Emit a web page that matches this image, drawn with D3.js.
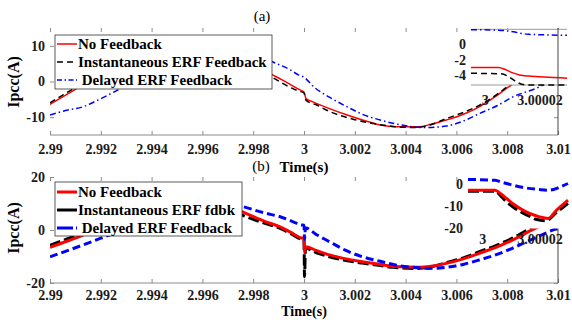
<!DOCTYPE html>
<html>
<head>
<meta charset="utf-8">
<script src="https://cdn.jsdelivr.net/npm/d3@7"></script>
<style>
  body { margin: 0; background: #fff; }
  svg { display: block; }
</style>
</head>
<body>
<svg id="chart" width="572" height="320"></svg>
<script>
// Values: [time (s), Ipcc (A)]
var xTicks = [2.99, 2.992, 2.994, 2.996, 2.998, 3, 3.002, 3.004, 3.006, 3.008, 3.01];
var yTicksA = [-10, 0, 10];
var yTicksB = [-20, 0, 20];
var insetXTicks = [3, 3.00002];
var insetYTicksA = [-4, -2, 0];
var insetYTicksB = [-20, -10, 0];

var legendA = ["No Feedback", "Instantaneous ERF Feedback", " Delayed ERF Feedback"];
var legendB = ["No Feedback", "Instantaneous ERF fdbk", " Delayed ERF Feedback"];

// (a) main
var aNoFb = [[2.99,-6.4],[2.9905,-4.3],[2.991,-2.2],[2.992,2.2],[2.993,6.6],[2.994,10],[2.995,11.8],[2.996,11.6],
  [2.997,9.4],[2.998,5.2],[2.9988,1.7],[2.9991,0.6],[2.9995,-1.0],[2.9998,-2.2],[3.0,-3.0],[3.00008,-4.8],
  [3.00035,-5.7],[3.001,-7.6],[3.0017,-9.4],[3.0024,-11.0],[3.003,-12.2],[3.0036,-12.7],[3.0045,-12.7],
  [3.005,-12.0],[3.0056,-10.8],[3.0063,-9.1],[3.0069,-7.1],[3.0075,-4.4],[3.0081,-1.3],[3.009,2.4],[3.01,6.0]];
var aInst = [[2.99,-6.0],[2.9905,-3.8],[2.991,-1.7],[2.992,2.8],[2.993,7.1],[2.994,10.4],[2.995,12.0],[2.996,11.4],
  [2.997,9.0],[2.998,4.6],[2.9988,1.0],[2.9991,-0.3],[2.9995,-1.8],[2.9998,-2.7],[3.0,-3.2],[3.00008,-5.3],
  [3.0005,-6.6],[3.001,-8.4],[3.002,-10.7],[3.003,-12.1],[3.0038,-12.8],[3.0044,-12.9],[3.005,-12.1],
  [3.0056,-10.4],[3.0063,-8.6],[3.0069,-6.7],[3.0075,-4.1],[3.0081,-1.0],[3.009,2.8],[3.01,6.4]];
var aDelayed = [[2.99,-9.4],[2.9907,-8.0],[2.9913,-7.1],[2.9918,-5.5],[2.9924,-3.4],[2.993,-1.0],[2.994,3.6],
  [2.995,8.2],[2.996,11.2],[2.997,11.6],[2.998,8.6],[2.9988,5.4],[2.9994,3.5],[2.9998,1.8],[3.0,1.2],
  [3.0004,-1.6],[3.001,-4.4],[3.0017,-7.1],[3.0023,-9.2],[3.003,-10.8],[3.0037,-12.0],[3.0043,-12.7],
  [3.0048,-12.9],[3.0056,-12.5],[3.0063,-11.0],[3.0069,-9.0],[3.0076,-6.8],[3.0082,-4.4],[3.0093,-1.4],[3.01,1.5]];

// (a) inset around t = 3 s
var aInsetNoFb = [[2.999995,-3.0],[3.000005,-3.0],[3.0000075,-3.25],[3.00001,-3.65],[3.0000127,-3.94],
  [3.000016,-4.08],[3.00002,-4.15],[3.000025,-4.25],[3.00003,-4.35]];
var aInsetInst = [[2.999995,-3.73],[3.000006,-3.8],[3.000009,-4.2],[3.0000115,-4.8],[3.0000152,-5.2],[3.00003,-5.2]];
var aInsetDelayed = [[2.999995,1.75],[3.000005,1.68],[3.000008,1.6],[3.000011,1.45],[3.000013,1.3],
  [3.000016,1.18],[3.00002,1.12],[3.00003,1.05]];

// (b) main
var bNoFb = [[2.99,-6.5],[2.9905,-4.8],[2.991,-3.1],[2.992,1.2],[2.993,5.6],[2.994,9.2],[2.995,11.1],[2.996,11.0],
  [2.997,8.9],[2.99755,6.9],[2.9985,3.1],[2.99906,1.2],[2.9995,-1.0],[2.9999,-3.0],[3.0,-3.1],[3.00002,-8.3],
  [3.00006,-6.3],[3.0005,-7.8],[3.001,-9.4],[3.0016,-10.8],[3.0023,-12.0],[3.003,-13.0],[3.0036,-13.8],
  [3.0045,-14.1],[3.005,-13.7],[3.0056,-12.6],[3.0063,-10.8],[3.0069,-8.8],[3.0076,-6.4],[3.0082,-3.8],
  [3.0091,0.6],[3.01,4.5]];
var bInst = [[2.99,-5.8],[2.9905,-4.0],[2.991,-2.2],[2.992,2.0],[2.993,6.2],[2.994,9.7],[2.995,11.3],[2.996,10.8],
  [2.997,8.3],[2.99755,5.7],[2.9985,2.4],[2.99906,0.6],[2.9995,-1.5],[2.9999,-3.4],[3.0,-3.5],[3.00002,-17.6],
  [3.00006,-6.9],[3.0005,-8.6],[3.001,-10.1],[3.0016,-11.4],[3.0023,-12.5],[3.003,-13.4],[3.0035,-14.1],
  [3.0044,-14.5],[3.005,-13.9],[3.0056,-12.3],[3.0063,-10.4],[3.0069,-8.2],[3.0076,-5.7],[3.0082,-3.1],
  [3.0088,0.0],[3.01,5.0]];
var bDelayed = [[2.99,-10.1],[2.991,-6.7],[2.992,-3.1],[2.993,0.6],[2.994,4.5],[2.995,8.0],[2.996,10.2],
  [2.997,10.3],[2.9976,8.8],[2.9985,6.3],[2.99906,5.0],[2.9996,3.0],[2.9999,1.9],[3.0,1.8],[3.00002,-3.5],
  [3.00006,0.8],[3.0005,-1.8],[3.001,-4.4],[3.0016,-7.5],[3.0023,-10.1],[3.003,-11.8],[3.0036,-13.2],
  [3.0043,-14.1],[3.0049,-14.5],[3.0056,-14.1],[3.0063,-12.9],[3.0069,-11.3],[3.0076,-9.2],[3.0082,-6.9],
  [3.009,-3.4],[3.00995,0.6],[3.01,0.8]];

// (b) inset around t = 3 s
var bInsetNoFb = [[2.999995,-2.9],[3.0000045,-2.9],[3.0000065,-4.5],[3.0000085,-6.6],[3.000011,-9.2],
  [3.0000142,-11.8],[3.000017,-13.5],[3.00002,-14.8],[3.000023,-15.5],[3.000026,-11.8],[3.00003,-7.3]];
var bInsetInst = [[2.999995,-3.4],[3.0000045,-3.4],[3.0000065,-5.5],[3.0000085,-8.1],[3.000011,-10.6],
  [3.000014,-12.9],[3.000017,-14.8],[3.0000188,-15.9],[3.0000223,-16.5],[3.000026,-12.8],[3.00003,-8.8]];
var bInsetDelayed = [[2.999995,1.9],[3.0000045,1.5],[3.000007,0.6],[3.00001,-0.4],[3.000014,-1.6],
  [3.00002,-2.6],[3.0000235,-2.9],[3.000027,-1.6],[3.00003,0.1]];

(function() {
  var FONT = '"Liberation Serif", "Times New Roman", serif';
  var svg = d3.select("#chart");

  svg.append("rect").attr("width", 572).attr("height", 320).attr("fill", "#fff");

  var x = d3.scaleLinear().domain([2.99, 3.01]).range([50, 558]);
  var fmtNum = function(d) { return String(+d.toFixed(5)); };

  var styleAxis = function(g, size) {
    g.select(".domain").remove();
    g.attr("font-family", FONT).attr("font-size", size).attr("font-weight", "bold");
    g.selectAll(".tick line").attr("stroke", "#8c8c8c");
    g.selectAll(".tick text").attr("fill", "#1a1a1a");
  };

  var drawLine = function(g, data, xs, ys, st) {
    var line = d3.line()
      .x(function(d) { return xs(d[0]); })
      .y(function(d) { return ys(d[1]); })
      .curve(d3.curveMonotoneX);
    g.append("path").datum(data)
      .attr("fill", "none")
      .attr("stroke", st.color)
      .attr("stroke-width", st.width)
      .attr("stroke-dasharray", st.dash)
      .attr("d", line);
  };

  var drawLegend = function(g, box, labels, styles) {
    g.append("rect")
      .attr("x", box.x).attr("y", box.y).attr("width", box.w).attr("height", box.h)
      .attr("fill", "#fff").attr("stroke", "#333").attr("stroke-width", 0.8);
    labels.forEach(function(lab, i) {
      var cy = box.y + box.first + i * box.step;
      var st = styles[i];
      g.append("line")
        .attr("x1", box.x + 2).attr("x2", box.x + 22).attr("y1", cy).attr("y2", cy)
        .attr("stroke", st.color).attr("stroke-width", st.width)
        .attr("stroke-dasharray", st.legendDash);
      g.append("text")
        .attr("x", box.x + 23).attr("y", cy).attr("dy", "0.35em")
        .attr("font-family", FONT).attr("font-size", 15).attr("font-weight", "bold")
        .attr("xml:space", "preserve").style("white-space", "pre")
        .attr("fill", "#000")
        .text(lab);
    });
  };

  var drawMain = function(p) {
    var y = d3.scaleLinear().domain(p.yDomain).range([p.bottom, p.top]);
    var g = svg.append("g");

    // Ticks pointing inward
    g.append("g").attr("transform", "translate(0," + p.bottom + ")")
      .call(d3.axisBottom(x).tickValues(xTicks).tickSize(-4).tickPadding(p.xPad).tickFormat(fmtNum))
      .call(styleAxis, 14);
    g.append("g").attr("transform", "translate(0," + p.top + ")")
      .call(d3.axisTop(x).tickValues(xTicks).tickSize(-4).tickFormat(""))
      .call(styleAxis, 14);
    g.append("g").attr("transform", "translate(50,0)")
      .call(d3.axisLeft(y).tickValues(p.yTicks).tickSize(-4).tickPadding(5).tickFormat(fmtNum))
      .call(styleAxis, 14);
    g.append("g").attr("transform", "translate(558,0)")
      .call(d3.axisRight(y).tickValues(p.yTicks).tickSize(-4).tickFormat(""))
      .call(styleAxis, 14);

    g.append("line").attr("x1", 50).attr("x2", 558).attr("y1", p.bottom).attr("y2", p.bottom)
      .attr("stroke", "#8c8c8c").attr("stroke-width", 1);

    var clipId = "clip" + p.name;
    svg.append("clipPath").attr("id", clipId).append("rect")
      .attr("x", 50).attr("y", p.top).attr("width", 508).attr("height", p.bottom - p.top);
    var lines = g.append("g").attr("clip-path", "url(#" + clipId + ")");
    p.series.forEach(function(s) { drawLine(lines, s.data, x, y, s.style); });
    return g;
  };

  var drawInset = function(p) {
    var ix = d3.scaleLinear().domain([2.999995, 3.00003]).range([p.left, p.right]);
    var iy = d3.scaleLinear().domain(p.yDomain).range([p.bottom, p.top]);
    var g = svg.append("g");
    g.append("rect").attr("x", p.left).attr("y", p.top)
      .attr("width", p.right - p.left).attr("height", p.bottom - p.top).attr("fill", "#fff");
    if (p.frame) {
      [p.top, p.bottom].forEach(function(yy) {
        g.append("line").attr("x1", p.left).attr("x2", p.right).attr("y1", yy).attr("y2", yy)
          .attr("stroke", "#9a9a9a").attr("stroke-width", 1);
      });
    }
    g.append("g").attr("transform", "translate(0," + p.bottom + ")")
      .call(d3.axisBottom(ix).tickValues(insetXTicks).tickSize(0).tickPadding(p.xPad).tickFormat(fmtNum))
      .call(styleAxis, 14);
    g.append("g").attr("transform", "translate(" + p.left + ",0)")
      .call(d3.axisLeft(iy).tickValues(p.yTicks).tickSize(0).tickPadding(5).tickFormat(fmtNum))
      .call(styleAxis, 14);
    p.series.forEach(function(s) { drawLine(g, s.data, ix, iy, s.style); });
  };

  // ---- panel (a)
  var redA = { color: "#ff0000", width: 1.5, dash: null, legendDash: null };
  var blackA = { color: "#000", width: 1.5, dash: "6,4", legendDash: "6,4" };
  var blueA = { color: "#0000ff", width: 1.5, dash: "6,3,1.5,3", legendDash: "5,2.5,1.5,2.5" };

  drawMain({
    name: "a", top: 28, bottom: 135, yDomain: [-15, 15], yTicks: yTicksA, xPad: 9,
    series: [
      { data: aNoFb, style: redA },
      { data: aInst, style: blackA },
      { data: aDelayed, style: blueA }
    ]
  });
  drawInset({
    left: 471, right: 567, top: 29.3, bottom: 85, yDomain: [-5.2, 1.8], yTicks: insetYTicksA,
    xPad: 10, frame: true,
    series: [
      { data: aInsetNoFb, style: redA },
      { data: aInsetInst, style: blackA },
      { data: aInsetDelayed, style: blueA }
    ]
  });
  svg.append("line").attr("x1", 558).attr("x2", 558).attr("y1", 28).attr("y2", 135)
    .attr("stroke", "#444").attr("stroke-width", 1);
  drawLegend(svg.append("g"), { x: 55, y: 35, w: 217, h: 54, first: 9, step: 18 },
    legendA, [redA, blackA, blueA]);

  // ---- panel (b)
  var redB = { color: "#ff0000", width: 3, dash: null, legendDash: null };
  var blackB = { color: "#000", width: 3, dash: "11,4", legendDash: null };
  var blueB = { color: "#0000ff", width: 3, dash: "8,4", legendDash: "16,3" };

  drawMain({
    name: "b", top: 177, bottom: 283, yDomain: [-20, 20], yTicks: yTicksB, xPad: 7,
    series: [
      { data: bInst, style: blackB },
      { data: bNoFb, style: redB },
      { data: bDelayed, style: blueB }
    ]
  });
  svg.append("line").attr("x1", 558).attr("x2", 558).attr("y1", 177).attr("y2", 283)
    .attr("stroke", "#444").attr("stroke-width", 1);
  drawInset({
    left: 468, right: 568, top: 177, bottom: 228.5, yDomain: [-20, 3], yTicks: insetYTicksB,
    xPad: 6, frame: false,
    series: [
      { data: bInsetInst, style: blackB },
      { data: bInsetNoFb, style: redB },
      { data: bInsetDelayed, style: blueB }
    ]
  });
  drawLegend(svg.append("g"), { x: 55, y: 182, w: 187, h: 54, first: 10, step: 18 },
    legendB, [redB, blackB, blueB]);

  // ---- titles and labels
  var label = function(txt, xx, yy, size, bold) {
    return svg.append("text").attr("x", xx).attr("y", yy)
      .attr("font-family", FONT).attr("font-size", size)
      .attr("font-weight", bold ? "bold" : "normal")
      .attr("text-anchor", "middle").attr("fill", "#000").text(txt);
  };
  label("(a)", 262, 21, 15, false);
  label("(b)", 261, 171, 15, false);
  label("Time(s)", 304, 172, 15, true);
  label("Time(s)", 304, 316, 14, true);
  label("Ipcc(A)", 0, 0, 16, true).attr("transform", "translate(19,82) rotate(-90)");
  label("Ipcc(A)", 0, 0, 16, true).attr("transform", "translate(19,228) rotate(-90)");
}());
</script>
</body>
</html>
